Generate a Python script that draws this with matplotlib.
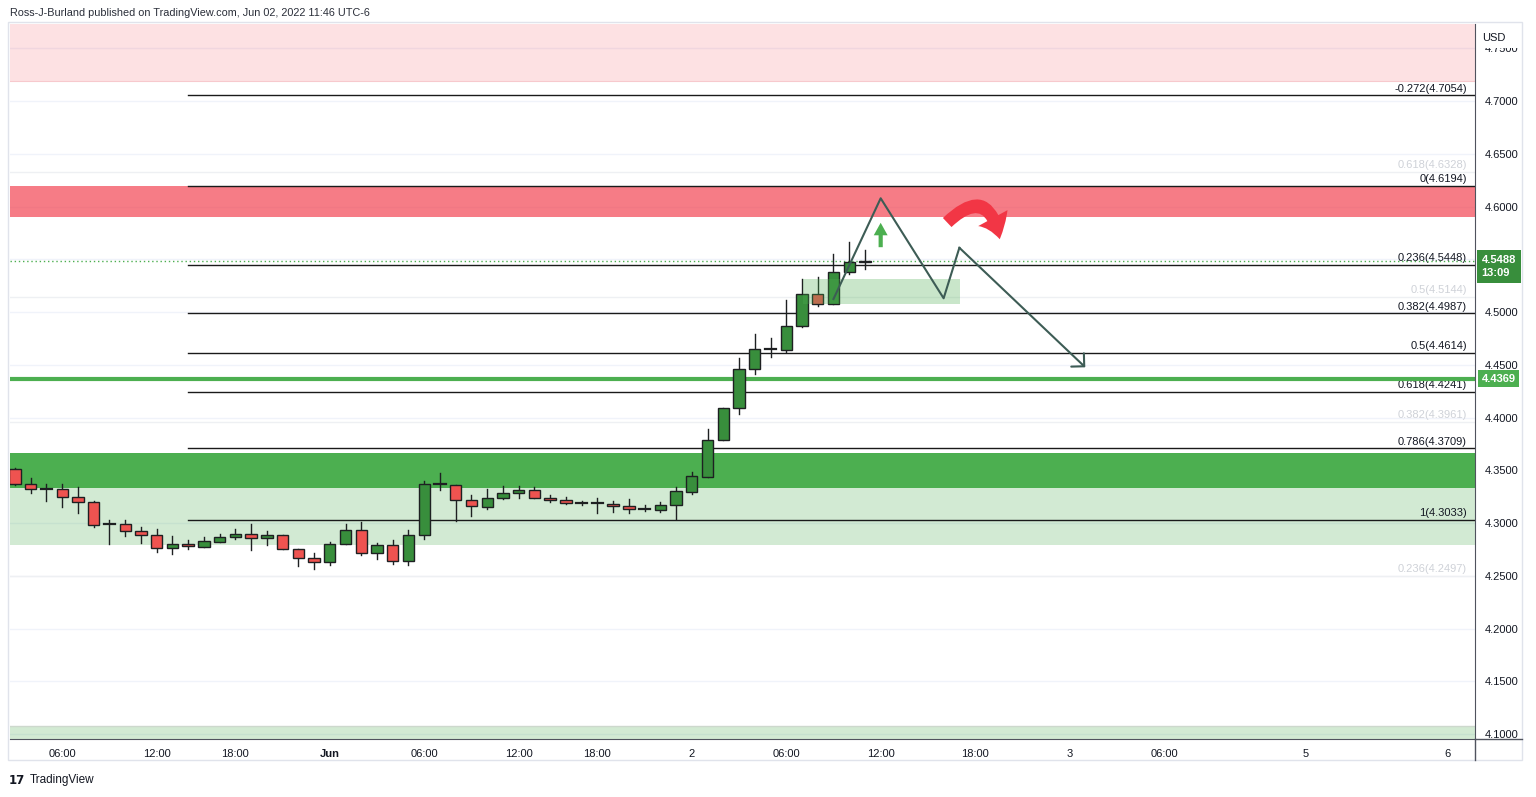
import matplotlib

matplotlib.use("Agg")
import matplotlib.pyplot as plt
import matplotlib.transforms as mtransforms
from matplotlib.lines import Line2D
from matplotlib.patches import FancyArrowPatch, Rectangle

plt.rcParams["font.family"] = ["Liberation Sans", "DejaVu Sans"]

# hourly candles, x = bar index on the session axis (23 bars per day)
opens = [4.3510, 4.3373, 4.3322, 4.3326, 4.3246, 4.3199, 4.2988, 4.2991, 4.2924, 4.2883,
         4.2760, 4.2798, 4.2776, 4.2823, 4.2867, 4.2893, 4.2862, 4.2886, 4.2754, 4.2665,
         4.2631, 4.2798, 4.2934, 4.2719, 4.2789, 4.2640, 4.2883, 4.3370, 4.3363, 4.3221,
         4.3155, 4.3241, 4.3281, 4.3310, 4.3241, 4.3222, 4.3187, 4.3187, 4.3178, 4.3158,
         4.3130, 4.3123, 4.3168, 4.3297, 4.3439, 4.3784, 4.4087, 4.4463, 4.4646, 4.4640,
         4.4867, 4.5168, 4.5073, 4.5382, 4.5478]
highs = [4.3525, 4.3427, 4.3367, 4.3367, 4.3344, 4.3211, 4.3028, 4.3028, 4.2959, 4.2940,
         4.2877, 4.2839, 4.2870, 4.2896, 4.2940, 4.2988, 4.2928, 4.2886, 4.2754, 4.2713,
         4.2820, 4.2988, 4.3007, 4.2814, 4.2839, 4.2934, 4.3395, 4.3471, 4.3363, 4.3265,
         4.3319, 4.3354, 4.3354, 4.3344, 4.3262, 4.3250, 4.3209, 4.3235, 4.3206, 4.3231,
         4.3168, 4.3197, 4.3344, 4.3480, 4.3888, 4.4087, 4.4564, 4.4791, 4.4757, 4.5111,
         4.5310, 4.5329, 4.5550, 4.5661, 4.5588]
lows = [4.3360, 4.3287, 4.3209, 4.3155, 4.3099, 4.2966, 4.2798, 4.2880, 4.2808, 4.2722,
        4.2706, 4.2754, 4.2776, 4.2823, 4.2851, 4.2744, 4.2795, 4.2754, 4.2596, 4.2562,
        4.2602, 4.2798, 4.2697, 4.2662, 4.2611, 4.2602, 4.2851, 4.3313, 4.3019, 4.3069,
        4.3136, 4.3225, 4.3235, 4.3241, 4.3203, 4.3178, 4.3168, 4.3099, 4.3109, 4.3095,
        4.3111, 4.3104, 4.3042, 4.3272, 4.3439, 4.3784, 4.4033, 4.4409, 4.4577, 4.4621,
        4.4855, 4.5060, 4.5073, 4.5358, 4.5405]
closes = [4.3370, 4.3320, 4.3322, 4.3250, 4.3196, 4.2981, 4.2988, 4.2921, 4.2886, 4.2760,
          4.2798, 4.2779, 4.2827, 4.2867, 4.2893, 4.2862, 4.2886, 4.2754, 4.2665, 4.2634,
          4.2798, 4.2934, 4.2719, 4.2789, 4.2640, 4.2883, 4.3370, 4.3370, 4.3221, 4.3158,
          4.3237, 4.3284, 4.3310, 4.3241, 4.3222, 4.3187, 4.3187, 4.3187, 4.3158, 4.3133,
          4.3130, 4.3168, 4.3299, 4.3442, 4.3784, 4.4087, 4.4463, 4.4649, 4.4646, 4.4867,
          4.5168, 4.5073, 4.5379, 4.5471, 4.5488]

time_ticks = [3, 9, 14, 20, 26, 32, 37, 43, 49, 55, 61, 67, 73, 82, 91]
time_labels = ["06:00", "12:00", "18:00", "Jun", "06:00", "12:00", "18:00", "2",
               "06:00", "12:00", "18:00", "3", "06:00", "5", "6"]
price_ticks = [4.10, 4.15, 4.20, 4.25, 4.30, 4.35, 4.40, 4.45, 4.50, 4.60, 4.65, 4.70, 4.75]
grid_levels = [4.10, 4.15, 4.20, 4.25, 4.30, 4.35, 4.40, 4.45, 4.50, 4.55, 4.60, 4.65,
               4.70, 4.75]

# fib retracement (main) and an older faint one
fib_ratios = ["-0.272", "0", "0.236", "0.382", "0.5", "0.618", "0.786", "1"]
fib_prices = [4.7054, 4.6194, 4.5448, 4.4987, 4.4614, 4.4241, 4.3709, 4.3033]
fib_start = 11
old_fib_ratios = ["0.618", "0.5", "0.382", "0.236"]
old_fib_prices = [4.6328, 4.5144, 4.3961, 4.2497]

# zones (low, high)
supply_far = (4.7190, 4.80)
supply = (4.5900, 4.6194)
demand = (4.3332, 4.3664)
demand_wide = (4.2791, 4.3332)
demand_low = (4.00, 4.1076)
support_line = 4.4369
last_price = 4.5488
countdown = "13:09"

# drawings
box_x = (50.06, 60.04)
box_y = (4.5076, 4.5313)
path_x = [52, 55, 59, 60, 68]
path_y = [4.5123, 4.6078, 4.5130, 4.5609, 4.4476]
up_arrow = ((55, 4.5588), (55, 4.5872))
curve_arrow = ((59.1, 4.5830), (62.6, 4.5664))

GREEN = "#388e3c"
RED = "#ef5350"
INK = "#131722"

fig = plt.figure(figsize=(15.36, 7.97), dpi=100)
ax = fig.add_axes([10 / 1536, 58 / 797, 1465 / 1536, 715 / 797])
ax.set_xlim(-0.318, 92.76)
ax.set_ylim(4.09526, 4.77299)

for g in grid_levels:
    ax.axhline(g, color="#f0f3fa", lw=1, zorder=0.5)

ax.axhspan(*supply_far, color="#f23645", alpha=0.15, lw=0, zorder=1)
ax.axhline(supply_far[0], color="#f7c9cd", lw=0.8, zorder=1)
ax.axhspan(*supply, color="#f23645", alpha=0.65, lw=0, zorder=1)
ax.axhspan(*demand, color="#4caf50", lw=0, zorder=1)
ax.axhspan(*demand_wide, color="#4caf50", alpha=0.25, lw=0, zorder=1)
ax.axhspan(*demand_low, color="#4caf50", alpha=0.25, lw=0, zorder=1)
ax.axhline(demand_low[1], color="#cdd8cd", lw=1, zorder=1)

xr = ax.get_xlim()[1]
for r, p in zip(old_fib_ratios, old_fib_prices):
    ax.axhline(p, color="#eef0f3", lw=1, zorder=1.5)
    ax.text(92.25, p + 0.0015, f"{r}({p:.4f})", ha="right", va="bottom",
            fontsize=8, color="#cfd2d8", zorder=2)
for r, p in zip(fib_ratios, fib_prices):
    ax.plot([fib_start, xr], [p, p], color="#1a1a1a", lw=1, zorder=2)
    ax.text(92.25, p + 0.0015, f"{r}({p:.4f})", ha="right", va="bottom",
            fontsize=8, color=INK, zorder=2)

ax.axhline(support_line, color="#4caf50", lw=3, zorder=2)
ax.axhline(last_price, color="#4caf50", lw=1, ls=(0, (1, 2)), zorder=2)

# candles
for i, (o, h, l, c) in enumerate(zip(opens, highs, lows, closes)):
    ax.plot([i, i], [l, h], color="#1e2022", lw=1, zorder=3)
    if abs(c - o) < 0.0003:
        ax.plot([i - 0.36, i + 0.36], [c, c], color="#1e2022", lw=1.6, zorder=3.1)
        continue
    fc = GREEN if c >= o else RED
    ax.add_patch(Rectangle((i - 0.36, min(o, c)), 0.72, abs(c - o), facecolor=fc,
                           edgecolor="#1e2022", lw=1, zorder=3.1))

ax.add_patch(Rectangle((box_x[0], box_y[0]), box_x[1] - box_x[0], box_y[1] - box_y[0],
                       facecolor="#4caf50", alpha=0.3, lw=0, zorder=4))

ax.plot(path_x[:-1], path_y[:-1], color="#3d5c55", lw=1.5, zorder=5)
ax.annotate("", xy=(path_x[-1], path_y[-1]), xytext=(path_x[-2], path_y[-2]),
            arrowprops=dict(arrowstyle="->,head_length=0.66,head_width=0.66",
                            color="#3d5c55", lw=1.5, shrinkA=0, shrinkB=0),
            zorder=5)

ax.add_patch(FancyArrowPatch(up_arrow[0], up_arrow[1],
                             arrowstyle="simple,head_width=1.0,head_length=0.9,tail_width=0.3",
                             mutation_scale=10, color="#4caf50", lw=0, zorder=6))
ax.add_patch(FancyArrowPatch(curve_arrow[0], curve_arrow[1],
                             connectionstyle="arc3,rad=-0.95",
                             arrowstyle="simple,head_width=2.4,head_length=1.6,tail_width=0.9",
                             mutation_scale=10, color="#f23645", lw=0, zorder=6))

# axes styling
for side in ("left", "top"):
    ax.spines[side].set_visible(False)
ax.spines["right"].set_color("#50535e")
ax.spines["bottom"].set_color("#50535e")
ax.yaxis.tick_right()
ax.set_yticks(price_ticks, [f"{p:.4f}" for p in price_ticks])
ax.set_xticks(time_ticks, time_labels)
ax.tick_params(axis="y", length=0, pad=7, labelsize=8, colors=INK)
ax.tick_params(axis="x", length=0, pad=7, labelsize=8, colors=INK)
for lbl in ax.get_xticklabels():
    if lbl.get_text() == "Jun":
        lbl.set_fontweight("bold")

trans = mtransforms.blended_transform_factory(ax.transAxes, ax.transData)
price_box = mtransforms.offset_copy(trans, fig=fig, y=-6, units="dots")
ax.text(1.0045, last_price, f"{last_price:.4f}\n{countdown}", transform=price_box,
        ha="left", va="center", color="white", fontsize=8, fontweight="bold",
        linespacing=1.35, clip_on=False, zorder=10,
        bbox=dict(boxstyle="square,pad=0.45", fc=GREEN, ec="none"))
ax.text(1.0045, support_line, f"{support_line:.4f}", transform=trans,
        ha="left", va="center", color="white", fontsize=8, fontweight="bold",
        clip_on=False, zorder=10,
        bbox=dict(boxstyle="square,pad=0.3", fc="#4caf50", ec="none"))

# widget frame, axis extensions, header and footer
W, H = 1536, 797
fig.add_artist(Rectangle((8 / W, 1 - 760 / H), 1514 / W, 738 / H, transform=fig.transFigure,
                         fill=False, ec="#e0e3eb", lw=1))
fig.add_artist(Line2D([1475 / W, 1475 / W], [1 - 739 / H, 1 - 760 / H],
                      transform=fig.transFigure, color="#50535e", lw=1))
fig.add_artist(Line2D([1475 / W, 1522 / W], [1 - 739 / H, 1 - 739 / H],
                      transform=fig.transFigure, color="#50535e", lw=1))
fig.add_artist(Rectangle((1477 / W, 1 - 47.5 / H), 44 / W, 22 / H, transform=fig.transFigure,
                         fc="white", ec="none", zorder=5))
fig.text(1482 / W, 1 - 38 / H, "USD", fontsize=8, color=INK, va="center", zorder=6)
fig.text(10 / W, 1 - 13 / H,
         "Ross-J-Burland published on TradingView.com, Jun 02, 2022 11:46 UTC-6",
         fontsize=7.8, color="#2a2e39", va="center")
fig.text(9 / W, 1 - 780 / H, "17", fontsize=8.5, fontweight="heavy", color=INK,
         va="center", family="DejaVu Sans")
fig.text(30 / W, 1 - 780 / H, "TradingView", fontsize=8.5, color=INK, va="center")

fig.savefig("out.png", dpi=100)
